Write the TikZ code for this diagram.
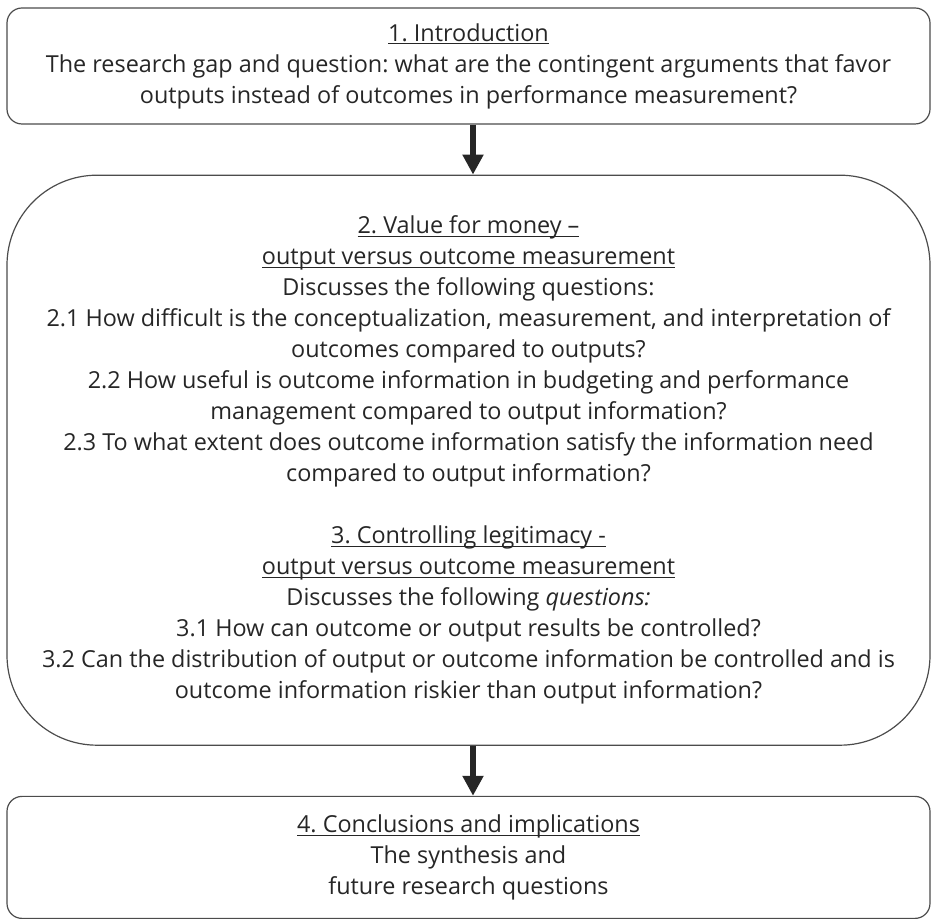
\documentclass[tikz,border=0pt]{standalone}
\usepackage{fontspec}
\setmainfont{Open Sans}
\usetikzlibrary{positioning,arrows.meta}

\newcommand{\headline}[1]{\underline{\raisebox{0pt}[\height][0pt]{#1}}}

\tikzset{
    box/.style={draw=black!70, line width=0.6pt, align=center, inner sep=0pt,
        minimum width=461.5pt, text=black!85},
    flow/.style={line width=3pt, black!85, -{Triangle[width=10pt,length=10pt]}}
}

\begin{document}
\frenchspacing
\begin{tikzpicture}[x=0.5pt, y=-0.5pt, font={\fontsize{11.7}{15.5}\selectfont}]
    \useasboundingbox (0,0) rectangle (933,919);

    \node[box, rounded corners=7.5pt, minimum height=58pt] (intro) at (468.5,66)
        {\headline{1. Introduction}\\
         The research gap and question: what are the contingent arguments that favor\\
         outputs instead of outcomes in performance measurement?};

    \node[box, rounded corners=45pt, minimum height=285pt, below=25pt of intro] (value)
        {\headline{2. Value for money --}\\
         \headline{output versus outcome measurement}\\
         Discusses the following questions:\\
         2.1 How difficult is the conceptualization, measurement, and interpretation of\\
         outcomes compared to outputs?\\
         2.2 How useful is outcome information in budgeting and performance\\
         management compared to output information?\\
         2.3 To what extent does outcome information satisfy the information need\\
         compared to output information?\\
         ~\\
         \headline{3. Controlling legitimacy -}\\
         \headline{output versus outcome measurement}\\
         Discusses the following \textit{questions:}\\
         3.1 How can outcome or output results be controlled?\\
         3.2 Can the distribution of output or outcome information be controlled and is\\
         outcome information riskier than output information?};

    \node[box, rounded corners=7.5pt, minimum height=61pt, below=25pt of value] (concl)
        {\headline{4. Conclusions and implications}\\
         The synthesis and\\
         future research questions};

    \draw[flow] ([xshift=2.25pt]intro.south) -- ([xshift=2.25pt]value.north);
    \draw[flow] ([xshift=2.25pt]value.south) -- ([xshift=2.25pt]concl.north);
\end{tikzpicture}
\end{document}
